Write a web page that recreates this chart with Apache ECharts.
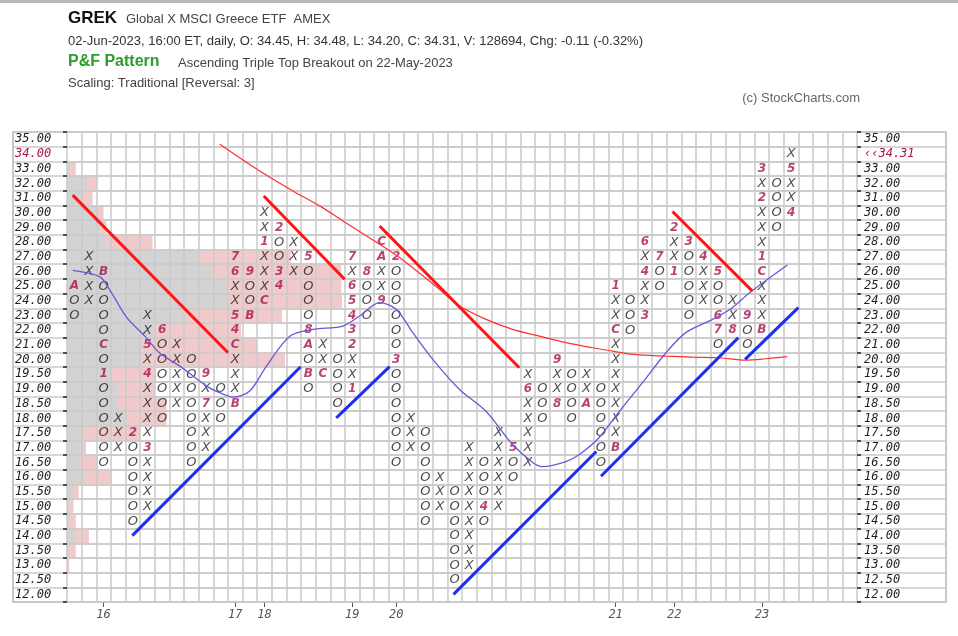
<!DOCTYPE html>
<html><head><meta charset="utf-8">
<script src="https://cdn.jsdelivr.net/npm/echarts@6/dist/echarts.min.js"></script>
<style>html,body{margin:0;padding:0;background:#fff}#c{width:958px;height:636px}</style>
</head><body><div id="c"></div>
<script>
// ---------- data ----------
const levels = [12,12.5,13,13.5,14,14.5,15,15.5,16,16.5,17,17.5,18,18.5,19,19.5,20,21,22,23,24,25,26,27,28,29,30,31,32,33,34,35];
const lastPrice = 34.31;
const colType = ['O','X','O','X','O','X','O','X','O','X','O','X','O','X','O','X','O','X','O','X','O','X','O','X','O','X','O','X','O','X','O','X','O','X','O','X','O','X','O','X','O','X','O','X','O','X','O','X','O','X'];
const colLow  = [23,24,16.5,17,14.5,15,18,18.5,16.5,17,18,18.5,23,24,25,26,19,19.5,18.5,19,23,24,16.5,17,14.5,15,12.5,13,14.5,15,16,16.5,18,18.5,18,18.5,16.5,17,22,23,25,26,23,24,21,22,21,22,29,30];
const colHigh = [25,27,26,18,17.5,23,22,21,20,19.5,19,27,26,30,29,28,27,21,20,27,26,28,27,18,17.5,16,15.5,17,16.5,17.5,17,19.5,19,20,19.5,19.5,19,25,24,28,27,29,28,27,26,24,23,33,32,34];
const monthMarks = [
 [0,25,'A'],[2,26,'B'],[2,21,'C'],[2,19.5,'1'],[4,17.5,'2'],[5,17,'3'],[5,19.5,'4'],[5,21,'5'],[6,22,'6'],
 [9,18.5,'7'],[9,19.5,'9'],[11,18.5,'B'],[11,21,'C'],[11,22,'4'],[11,23,'5'],[11,26,'6'],[11,27,'7'],
 [12,26,'9'],[12,23,'B'],[13,24,'C'],[13,28,'1'],[14,29,'2'],[14,26,'3'],[14,25,'4'],
 [16,27,'5'],[16,22,'8'],[16,21,'A'],[16,19.5,'B'],[17,19.5,'C'],
 [19,19,'1'],[19,21,'2'],[19,22,'3'],[19,23,'4'],[19,24,'5'],[19,25,'6'],[19,27,'7'],
 [20,26,'8'],[21,24,'9'],[21,27,'A'],[21,28,'C'],[22,27,'2'],[22,20,'3'],
 [28,15,'4'],[30,17,'5'],[31,19,'6'],[33,18.5,'8'],[33,20,'9'],[35,18.5,'A'],
 [37,17,'B'],[37,22,'C'],[37,25,'1'],[39,23,'3'],[39,26,'4'],[39,28,'6'],[40,27,'7'],
 [41,26,'1'],[41,29,'2'],[42,28,'3'],[43,27,'4'],[44,26,'5'],[44,23,'6'],[44,22,'7'],
 [45,22,'8'],[46,23,'9'],[47,22,'B'],[47,26,'C'],[47,27,'1'],[47,31,'2'],[47,33,'3'],
 [49,30,'4'],[49,33,'5']
];
// volume-at-price (in column widths), one value per level, bottom to top
const volGray = [0,0,0,0.15,0.6,0.15,0.15,0.45,1.2,0.9,1.0,1.1,4.0,3.5,3.5,3.0,5.0,5.0,6.0,7.9,10.9,10.9,9.9,9.0,2.6,2.25,2.0,1.0,1.35,0.2,0,0];
const volPink = [0,0,0.15,0.6,1.5,0.6,0.45,0.8,3.05,2.1,1.3,5.0,6.8,6.8,6.0,6.1,14.9,13.0,11.9,14.7,18.8,18.75,18.75,15.3,5.85,2.7,2.5,1.75,2.05,0.6,0,0];
const yearCols = [2,11,13,19,22,37,41,47];
const yearLabels = ['16','17','18','19','20','21','22','23'];
// trend lines: [column, box] end points
const redTrend = [[[0.39,27.70],[11.01,16.97]],[[13.45,27.64],[18.98,21.97]],[[21.37,25.60],[30.92,15.95]],[[41.39,26.59],[46.85,21.17]]];
const blueTrend = [[[4.46,4.52],[15.97,16.02]],[[18.41,12.54],[22.05,16.02]],[[26.42,0.52],[36.18,10.25]],[[36.50,8.56],[45.89,18.0]],[[46.35,16.52],[49.99,20.04]]];
const maLong = [[10.44,31.17],[13.17,29.35],[15.45,27.99],[17.27,26.97],[18.86,25.94],[21.37,24.36],[22.73,23.45],[25.46,21.29],[26.83,20.15],[28.65,19.24],[30.46,18.56],[32.29,18.10],[34.11,17.66],[35.93,17.31],[37.29,17.08],[38.66,16.86],[40.94,16.74],[42.75,16.67],[44.57,16.63],[46.40,16.47],[47.76,16.56],[49.24,16.70]];
const maShort = [[0.39,22.58],[2.25,22.14],[2.94,21.22],[4.08,19.38],[5.32,18.10],[6.35,16.93],[7.71,16.06],[9.54,14.70],[10.44,14.25],[11.35,13.96],[12.49,14.36],[13.63,16.06],[15.23,18.10],[16.81,18.56],[18.86,18.79],[20.0,19.47],[21.37,20.38],[22.50,19.93],[23.64,18.34],[25.0,16.52],[26.83,14.47],[28.65,12.97],[30.46,10.72],[31.83,9.50],[32.51,9.22],[34.11,9.56],[35.02,10.04],[36.38,11.20],[37.75,12.97],[39.34,14.93],[40.94,16.97],[42.30,18.34],[44.12,19.24],[45.48,20.04],[46.62,21.02],[49.24,22.94]];

// ---------- build ----------
const NCOL = 54, NROW = levels.length;
const RED = '#a8144c';
const MONO = '"DejaVu Sans Mono", monospace';
const levelLabels = levels.map(v => v.toFixed(2));
let lastRow = 0; levels.forEach((v,i)=>{ if (v <= lastPrice) lastRow = i; });
const rightLabels = levelLabels.map((s,i) => i === lastRow ? '\u2039\u2039' + lastPrice.toFixed(2) : s);

const markMap = {};
monthMarks.forEach(([c,p,ch]) => { markMap[c + '_' + p] = ch; });
const xoData = [], monData = [];
colType.forEach((t,c) => {
  const lo = levels.indexOf(colLow[c]), hi = levels.indexOf(colHigh[c]);
  for (let r = lo; r <= hi; r++) {
    const ch = markMap[c + '_' + levels[r]];
    if (ch) monData.push([c + 0.5, r + 0.5, ch]); else xoData.push([c + 0.5, r + 0.5, t]);
  }
});

const chart = echarts.init(document.getElementById('c'));
const gridLine = {color:'#cacaca', width:1.5};
const series = [
  {type:'bar', xAxisIndex:1, yAxisIndex:2, data:volPink, barWidth:'100%', barGap:'-100%', itemStyle:{color:'#f1cbcb'}, z:1, silent:true},
  {type:'bar', xAxisIndex:1, yAxisIndex:2, data:volGray, barWidth:'100%', barGap:'-100%', itemStyle:{color:'#d3d3d3'}, z:1, silent:true},
  {type:'scatter', xAxisIndex:1, yAxisIndex:1, data:xoData, symbolSize:1, itemStyle:{color:'rgba(0,0,0,0)'}, silent:true, z:5,
   label:{show:true, position:'inside', formatter:p=>p.data[2], color:'#1c1c1c', fontSize:13, fontStyle:'italic', fontFamily:'"DejaVu Sans", sans-serif'}},
  {type:'scatter', xAxisIndex:1, yAxisIndex:1, data:monData, symbolSize:1, itemStyle:{color:'rgba(0,0,0,0)'}, silent:true, z:5,
   label:{show:true, position:'inside', formatter:p=>p.data[2], color:RED, fontSize:12, fontStyle:'italic', fontWeight:'bold', fontFamily:'"DejaVu Sans", sans-serif'}},
  {type:'line', xAxisIndex:1, yAxisIndex:1, data:maLong, smooth:0.3, symbol:'none', lineStyle:{color:'#ff3030', width:1.2}, z:6, silent:true},
  {type:'line', xAxisIndex:1, yAxisIndex:1, data:maShort, smooth:0.3, symbol:'none', lineStyle:{color:'#6a58d8', width:1.3}, z:6, silent:true}
];
redTrend.forEach(seg => series.push({type:'line', xAxisIndex:1, yAxisIndex:1, data:seg, symbol:'none', lineStyle:{color:'#ff1515', width:3}, z:7, silent:true}));
blueTrend.forEach(seg => series.push({type:'line', xAxisIndex:1, yAxisIndex:1, data:seg, symbol:'none', lineStyle:{color:'#1f2ff0', width:3}, z:7, silent:true}));

const yearTicks = yearCols.map(c => c + 0.5);
const sans = '"Liberation Sans", Arial, sans-serif';
const catLabel = {interval:0, fontSize:12, fontStyle:'italic', fontFamily:MONO, color:(v,i)=> i === lastRow ? RED : '#1e1e1e'};
chart.setOption({
  animation:false,
  backgroundColor:'#fff',
  grid:[
    {left:13, top:132, width:933, height:470, show:true, borderColor:'#b5b5b5', borderWidth:1.5, backgroundColor:'#fff'},
    {left:67, top:132, width:790, height:470}
  ],
  xAxis:[
    {gridIndex:0, type:'value', min:0, max:1, show:false},
    {gridIndex:1, type:'value', min:0, max:NCOL, interval:1, axisLine:{show:false}, axisTick:{show:false}, axisLabel:{show:false}, splitLine:{show:true, lineStyle:gridLine}, z:3},
    {gridIndex:1, type:'value', min:0, max:NCOL, position:'bottom', axisLine:{show:false}, splitLine:{show:false},
     axisTick:{show:true, customValues:yearTicks, length:5, lineStyle:{color:'#555'}},
     axisLabel:{show:true, customValues:yearTicks, margin:7, color:'#555', fontSize:12, fontStyle:'italic', fontFamily:MONO,
       formatter:v => { const i = yearCols.indexOf(Math.round(v - 0.5)); return i < 0 ? '' : yearLabels[i]; }}}
  ],
  yAxis:[
    {gridIndex:0, type:'value', min:0, max:NROW, interval:1, axisLine:{show:false}, axisTick:{show:false}, axisLabel:{show:false}, splitLine:{show:true, lineStyle:gridLine}},
    {gridIndex:1, type:'value', min:0, max:NROW, interval:1, axisLine:{show:false}, axisTick:{show:false}, axisLabel:{show:false}, splitLine:{show:true, lineStyle:gridLine}, z:3},
    {gridIndex:1, type:'category', data:levelLabels, position:'left', axisLine:{show:false}, splitLine:{show:false},
     axisTick:{show:true, interval:0, length:4, lineStyle:{color:'#222', width:1.5}},
     axisLabel:Object.assign({margin:52, align:'left'}, catLabel), z:3},
    {gridIndex:1, type:'category', data:rightLabels, position:'right', axisLine:{show:false}, splitLine:{show:false},
     axisTick:{show:true, interval:0, length:4, lineStyle:{color:'#222', width:1.5}},
     axisLabel:Object.assign({margin:7, align:'left'}, catLabel), z:3}
  ],
  series:series,
  graphic:[
    {type:'rect', shape:{x:0, y:0, width:958, height:3}, style:{fill:'#b8b8b8'}},
    {type:'text', x:68, y:18, style:{text:'GREK', font:'bold 17px ' + sans, fill:'#111', verticalAlign:'middle'}},
    {type:'text', x:126, y:19, style:{text:'Global X MSCI Greece ETF  AMEX', font:'13px ' + sans, fill:'#444', verticalAlign:'middle'}},
    {type:'text', x:68, y:41, style:{text:'02-Jun-2023, 16:00 ET, daily, O: 34.45, H: 34.48, L: 34.20, C: 34.31, V: 128694, Chg: -0.11 (-0.32%)', font:'13px ' + sans, fill:'#333', verticalAlign:'middle'}},
    {type:'text', x:68, y:62, style:{text:'P&F Pattern', font:'bold 16px ' + sans, fill:'#2a9d2a', verticalAlign:'middle'}},
    {type:'text', x:178, y:63, style:{text:'Ascending Triple Top Breakout on 22-May-2023', font:'13px ' + sans, fill:'#444', verticalAlign:'middle'}},
    {type:'text', x:68, y:83, style:{text:'Scaling: Traditional [Reversal: 3]', font:'13px ' + sans, fill:'#444', verticalAlign:'middle'}},
    {type:'text', x:860, y:98, style:{text:'(c) StockCharts.com', font:'13px ' + sans, fill:'#666', align:'right', verticalAlign:'middle'}}
  ]
});
</script>
</body></html>
